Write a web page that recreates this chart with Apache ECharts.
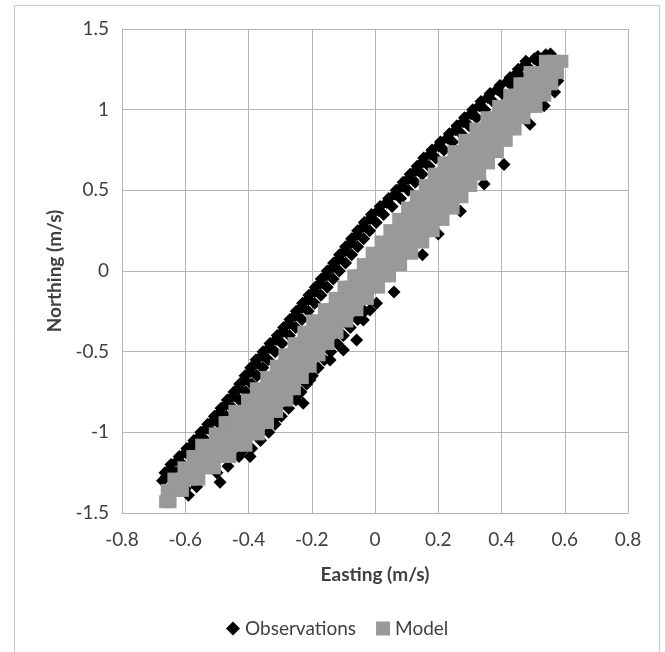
<!DOCTYPE html>
<html>
<head>
<meta charset="utf-8">
<script src="https://cdn.jsdelivr.net/npm/echarts@6/dist/echarts.min.js"></script>
<style>
  html, body { margin: 0; padding: 0; background: #fff; }
  #chart { width: 665px; height: 652px; }
</style>
</head>
<body>
<div id="chart"></div>
<script>
// Axis ticks
var xTicks = [-0.8, -0.6, -0.4, -0.2, 0, 0.2, 0.4, 0.6, 0.8];
var yTicks = [-1.5, -1, -0.5, 0, 0.5, 1, 1.5];

// Model cloud, read row by row (one northing value, several eastings)
var modelRowY = [-1.43, -1.36, -1.29, -1.22, -1.15, -1.08, -1.01, -0.94, -0.87, -0.80,
  -0.73, -0.66, -0.59, -0.52, -0.45, -0.38, -0.31, -0.24, -0.17, -0.10,
  -0.03, 0.04, 0.11, 0.18, 0.25, 0.32, 0.39, 0.46, 0.53, 0.60,
  0.67, 0.74, 0.81, 0.88, 0.95, 1.02, 1.09, 1.16, 1.23, 1.30];
var modelRowX = [
  [-0.662, -0.648],
  [-0.657, -0.632, -0.609],
  [-0.636, -0.61, -0.583, -0.557],
  [-0.604, -0.572, -0.54, -0.508],
  [-0.576, -0.546, -0.517, -0.488, -0.459],
  [-0.548, -0.513, -0.478, -0.443, -0.408],
  [-0.505, -0.49, -0.46, -0.429, -0.399, -0.369],
  [-0.474, -0.459, -0.429, -0.4, -0.37, -0.34],
  [-0.443, -0.429, -0.4, -0.37, -0.341, -0.311],
  [-0.403, -0.37, -0.34, -0.309, -0.279],
  [-0.375, -0.344, -0.314, -0.285, -0.255],
  [-0.342, -0.317, -0.288, -0.259, -0.23],
  [-0.312, -0.291, -0.262, -0.234, -0.205],
  [-0.285, -0.265, -0.235, -0.206, -0.177],
  [-0.256, -0.236, -0.207, -0.178, -0.149],
  [-0.225, -0.206, -0.177, -0.149, -0.12],
  [-0.197, -0.177, -0.147, -0.118, -0.089],
  [-0.16, -0.142, -0.113, -0.085, -0.057],
  [-0.126, -0.108, -0.08, -0.052, -0.024],
  [-0.098, -0.077, -0.048, -0.018, 0.011],
  [-0.067, -0.045, -0.014, 0.016, 0.046],
  [-0.037, -0.013, 0.019, 0.05, 0.081],
  [-0.009, 0.018, 0.051, 0.083, 0.116],
  [0.019, 0.049, 0.083, 0.117, 0.151],
  [0.047, 0.067, 0.096, 0.126, 0.155, 0.184],
  [0.075, 0.096, 0.126, 0.156, 0.185, 0.215],
  [0.103, 0.126, 0.156, 0.186, 0.217, 0.247],
  [0.131, 0.154, 0.184, 0.214, 0.245, 0.275],
  [0.159, 0.182, 0.212, 0.242, 0.273, 0.303],
  [0.187, 0.21, 0.24, 0.27, 0.301, 0.331],
  [0.218, 0.24, 0.27, 0.299, 0.329, 0.359],
  [0.25, 0.27, 0.3, 0.329, 0.358, 0.387],
  [0.284, 0.312, 0.347, 0.381, 0.415],
  [0.319, 0.345, 0.377, 0.41, 0.443],
  [0.354, 0.377, 0.408, 0.44, 0.471],
  [0.391, 0.414, 0.446, 0.477, 0.509],
  [0.426, 0.451, 0.479, 0.508, 0.537],
  [0.458, 0.471, 0.5, 0.53, 0.559],
  [0.49, 0.519, 0.548, 0.577],
  [0.539, 0.565, 0.591]
];

// Observations: upper-left edge of the cloud, row by row
var obsRowY = [-1.30, -1.25, -1.20, -1.15, -1.10, -1.05, -1.00, -0.95, -0.90, -0.85,
  -0.80, -0.75, -0.70, -0.65, -0.60, -0.55, -0.50, -0.45, -0.40, -0.35,
  -0.30, -0.25, -0.20, -0.15, -0.10, -0.05, 0.00, 0.05, 0.10, 0.15,
  0.20, 0.25, 0.30, 0.35, 0.40, 0.45, 0.50, 0.55, 0.60, 0.65,
  0.70, 0.75, 0.80, 0.85, 0.90, 0.95, 1.00, 1.05, 1.10, 1.15,
  1.20, 1.25, 1.30, 1.33];
var obsRowX = [
  [-0.672, -0.638], [-0.664, -0.628], [-0.645, -0.608], [-0.619, -0.581], [-0.595, -0.557],
  [-0.573, -0.535], [-0.551, -0.513], [-0.529, -0.491], [-0.508, -0.47], [-0.487, -0.449],
  [-0.467, -0.429], [-0.446, -0.408], [-0.428, -0.39], [-0.411, -0.373], [-0.393, -0.355],
  [-0.376, -0.338], [-0.354, -0.316], [-0.332, -0.294], [-0.309, -0.271], [-0.289, -0.251],
  [-0.269, -0.231], [-0.249, -0.211], [-0.229, -0.191], [-0.209, -0.171], [-0.189, -0.151],
  [-0.170, -0.132], [-0.151, -0.113], [-0.131, -0.093], [-0.112, -0.074], [-0.093, -0.055],
  [-0.074, -0.036], [-0.055, -0.017], [-0.034, 0.004], [-0.011, 0.027], [0.016, 0.054],
  [0.043, 0.081], [0.067, 0.105], [0.089, 0.127], [0.111, 0.149], [0.133, 0.171],
  [0.154, 0.192], [0.180, 0.218], [0.207, 0.245], [0.235, 0.273], [0.259, 0.297],
  [0.283, 0.321], [0.309, 0.347], [0.335, 0.373], [0.364, 0.402], [0.395, 0.433],
  [0.427, 0.465], [0.453, 0.491], [0.477, 0.515], [0.515, 0.545]
];

// Observations: in-between rows that close up the upper-left edge
var obsMidY = [-1.275, -1.225, -1.175, -1.125, -1.075, -1.025, -0.975, -0.925, -0.875, -0.825,
  -0.775, -0.725, -0.675, -0.625, -0.575, -0.525, -0.475, -0.425, -0.375, -0.325,
  -0.275, -0.225, -0.175, -0.125, -0.075, -0.025, 0.025, 0.075, 0.125, 0.175,
  0.225, 0.275, 0.325, 0.375, 0.425, 0.475, 0.525, 0.575, 0.625, 0.675,
  0.725, 0.775, 0.825, 0.875, 0.925, 0.975, 1.025, 1.075, 1.125, 1.175,
  1.225, 1.275, 1.315];
var obsMidX = [-0.66, -0.647, -0.624, -0.599, -0.576, -0.554, -0.532, -0.51, -0.49, -0.469,
  -0.449, -0.429, -0.412, -0.394, -0.377, -0.357, -0.335, -0.313, -0.291, -0.271,
  -0.251, -0.231, -0.211, -0.191, -0.172, -0.153, -0.133, -0.114, -0.095, -0.076,
  -0.057, -0.037, -0.015, 0.011, 0.037, 0.063, 0.086, 0.108, 0.13, 0.151,
  0.175, 0.201, 0.229, 0.255, 0.279, 0.304, 0.33, 0.357, 0.387, 0.419,
  0.448, 0.473, 0.504];

// Observations: scattered points on the lower-right edge
var obsLower = [
  [-0.59, -1.39], [-0.564, -1.337], [-0.49, -1.31], [-0.50, -1.25], [-0.465, -1.21],
  [-0.43, -1.15], [-0.395, -1.15], [-0.416, -1.11], [-0.39, -1.10], [-0.362, -1.05],
  [-0.336, -1.00], [-0.316, -0.95], [-0.311, -0.903], [-0.296, -0.90], [-0.273, -0.85],
  [-0.227, -0.82], [-0.25, -0.80], [-0.248, -0.779], [-0.234, -0.75], [-0.216, -0.70],
  [-0.206, -0.676], [-0.198, -0.65], [-0.18, -0.60], [-0.16, -0.55], [-0.142, -0.552],
  [-0.14, -0.50], [-0.10, -0.49], [-0.12, -0.45], [-0.058, -0.428], [-0.10, -0.40],
  [-0.078, -0.35], [-0.037, -0.304], [-0.055, -0.30], [-0.033, -0.25], [-0.016, -0.242],
  [0.005, -0.20], [0.06, -0.13], [0.15, 0.10], [0.20, 0.23], [0.27, 0.37],
  [0.345, 0.54], [0.408, 0.66], [0.49, 0.91], [0.535, 1.025], [0.568, 1.11],
  [0.578, 1.18], [0.54, 1.34], [0.555, 1.345]
];

// Observations in the middle of the cloud (under the model points)
var obsCore = [
  [-0.60, -1.35], [-0.50, -1.12], [-0.42, -0.92], [-0.33, -0.72], [-0.25, -0.52],
  [-0.16, -0.32], [-0.07, -0.12], [0.02, 0.08], [0.11, 0.30], [0.20, 0.50],
  [0.29, 0.72], [0.38, 0.92], [0.46, 1.12], [0.55, 1.28]
];

var modelData = [];
modelRowY.forEach(function (y, i) {
  modelRowX[i].forEach(function (x) { modelData.push([x, y]); });
});

var obsData = [];
obsRowY.forEach(function (y, i) {
  obsRowX[i].forEach(function (x) { obsData.push([x, y]); });
});
obsMidY.forEach(function (y, i) { obsData.push([obsMidX[i], y]); });
obsData = obsData.concat(obsLower, obsCore);

var font = 'Lato, "Open Sans", sans-serif';
var gridColor = '#b4b4b4';

var myChart = echarts.init(document.getElementById('chart'));

myChart.setOption({
    animation: false,
    backgroundColor: '#fff',
    textStyle: { fontFamily: font },
    graphic: [{
        type: 'rect',
        shape: { x: 14.5, y: 5.5, width: 645, height: 660 },
        style: { fill: 'none', stroke: '#c8c8c8', lineWidth: 1 },
        silent: true
    }],
    grid: { left: 122, right: 37, top: 29, bottom: 139 },
    legend: {
        left: 221,
        top: 614,
        itemGap: 20,
        itemWidth: 14,
        itemHeight: 14,
        textStyle: { color: '#404040', fontSize: 19, fontFamily: font },
        data: [
            { name: 'Observations', icon: 'diamond', itemStyle: { color: '#000' } },
            { name: 'Model', icon: 'rect', itemStyle: { color: '#999999' } }
        ]
    },
    xAxis: {
        type: 'value',
        min: xTicks[0],
        max: xTicks[xTicks.length - 1],
        interval: 0.2,
        name: 'Easting (m/s)',
        nameLocation: 'middle',
        nameGap: 52,
        nameTextStyle: { color: '#404040', fontSize: 19, fontWeight: 'bold', fontFamily: font },
        axisLine: { onZero: false, lineStyle: { color: gridColor, width: 1 } },
        axisTick: { show: false },
        axisLabel: { color: '#404040', fontSize: 19, margin: 17, fontFamily: font },
        splitLine: { show: true, lineStyle: { color: gridColor, width: 1 } }
    },
    yAxis: {
        type: 'value',
        min: yTicks[0],
        max: yTicks[yTicks.length - 1],
        interval: 0.5,
        name: 'Northing (m/s)',
        nameLocation: 'middle',
        nameGap: 53,
        nameTextStyle: { color: '#404040', fontSize: 19, fontWeight: 'bold', fontFamily: font },
        axisLine: { onZero: false, lineStyle: { color: gridColor, width: 1 } },
        axisTick: { show: false },
        axisLabel: { color: '#404040', fontSize: 19, margin: 13, fontFamily: font },
        splitLine: { show: true, lineStyle: { color: gridColor, width: 1 } }
    },
    series: [
        {
            name: 'Observations',
            type: 'scatter',
            symbol: 'diamond',
            symbolSize: 13,
            itemStyle: { color: '#000', opacity: 1 },
            data: obsData
        },
        {
            name: 'Model',
            type: 'scatter',
            symbol: 'rect',
            symbolSize: 13,
            itemStyle: { color: '#999999', opacity: 1 },
            data: modelData
        }
    ]
});
</script>
</body>
</html>
